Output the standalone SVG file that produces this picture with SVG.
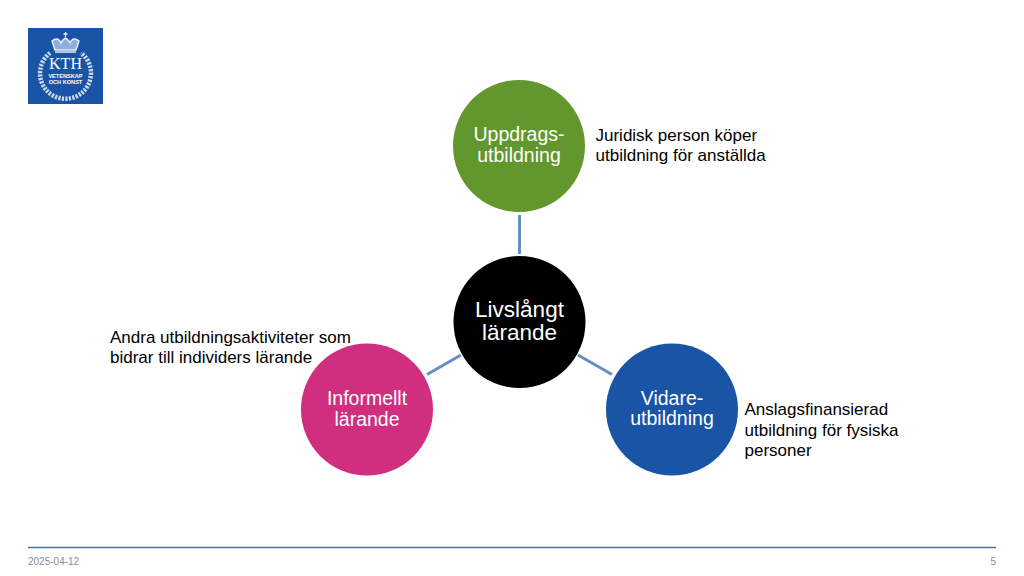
<svg xmlns="http://www.w3.org/2000/svg" width="1024" height="576" viewBox="0 0 1024 576">
<style>
text{font-family:"Liberation Sans",Arial,sans-serif}
.n{fill:#fff;font-size:19.500px;text-anchor:middle}
.b{fill:#fff;font-size:22.500px;text-anchor:middle}
.c{fill:#000;font-size:17px}
.l{stroke:#648fc3;stroke-width:3;fill:none}
.f{fill:#8c8c8c;font-size:10px}
.w{fill:none;stroke:#cfdcf0;stroke-width:4.500;stroke-dasharray:2.200 1.300}
.t{fill:#fff;text-anchor:middle}
</style>
<rect width="1024" height="576" fill="#fff"/>
<g id="logo">
<rect x="28" y="28" width="75" height="76" fill="#1954a6"/>
<path class="w" d="M50 53A25.500 25.500 0 1 0 81 53"/>
<path d="M55 50L52 41Q58 36 61 43Q65.500 34 70 43Q73 36 79 41L76 50Z" fill="#8fb0dc" stroke="#e6edf7" stroke-width="1.500"/>
<path d="M65.500 32V38M63.500 34H67.500M55 52H76" stroke="#e6edf7" stroke-width="1.300" fill="none"/>
<text class="t" x="65.500" y="69" style="font-family:'Liberation Serif',serif;font-size:16px">KTH</text>
<text class="t" x="65.500" y="77.500" style="font-size:5.600px;font-weight:bold">VETENSKAP</text>
<text class="t" x="65.500" y="84" style="font-size:5.600px;font-weight:bold">OCH KONST</text>
</g>
<g id="connectors">
<line class="l" x1="519.500" y1="215" x2="519.500" y2="254"/>
<line class="l" x1="427" y1="374.500" x2="461" y2="355"/>
<line class="l" x1="578" y1="355" x2="612" y2="374.500"/>
</g>
<g id="uppdrag">
<circle cx="519" cy="146" r="66" fill="#62972e"/>
<text class="n" x="519" y="141">Uppdrags-</text>
<text class="n" x="519" y="162">utbildning</text>
</g>
<g id="livslangt">
<circle cx="519.500" cy="322" r="66" fill="#000"/>
<text class="b" x="519.500" y="317">Livslångt</text>
<text class="b" x="519.500" y="340">lärande</text>
</g>
<g id="informellt">
<circle cx="367" cy="409.500" r="66" fill="#d02f80"/>
<text class="n" x="367" y="405">Informellt</text>
<text class="n" x="367" y="426">lärande</text>
</g>
<g id="vidare">
<circle cx="672" cy="409.500" r="66" fill="#1954a6"/>
<text class="n" x="672" y="405">Vidare-</text>
<text class="n" x="672" y="425">utbildning</text>
</g>
<g id="captions">
<text class="c" x="595.500" y="141">Juridisk person köper</text>
<text class="c" x="595.500" y="161">utbildning för anställda</text>
<text class="c" x="110" y="343">Andra utbildningsaktiviteter som</text>
<text class="c" x="110" y="363">bidrar till individers lärande</text>
<text class="c" x="744.500" y="415">Anslagsfinansierad</text>
<text class="c" x="744.500" y="436">utbildning för fysiska</text>
<text class="c" x="744.500" y="456">personer</text>
</g>
<g id="footer">
<line x1="28" y1="547.500" x2="996" y2="547.500" stroke="#3f75a8" stroke-width="1.600"/>
<text class="f" x="28" y="565">2025-04-12</text>
<text class="f" x="996" y="565" text-anchor="end">5</text>
</g>
</svg>
